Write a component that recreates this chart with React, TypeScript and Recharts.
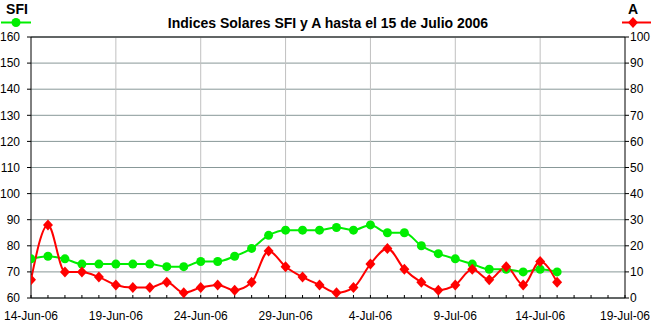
import React from 'react';
import { LineChart, Line, XAxis, YAxis, CartesianGrid, ReferenceLine } from 'recharts';

const days = Array.from({ length: 32 }, (_, i) => i);
const sfiValues = [75, 76, 75, 73, 73, 73, 73, 73, 72, 72, 74, 74, 76, 79, 84, 86, 86, 86, 87, 86, 88, 85, 85, 80, 77, 75, 73, 71, 71, 70, 71, 70];
const aValues = [7, 28, 10, 10, 8, 5, 4, 4, 6, 2, 4, 5, 3, 6, 18, 12, 8, 5, 2, 4, 13, 19, 11, 6, 3, 5, 11, 7, 12, 5, 14, 6];
const majorTicks = [0, 5, 10, 15, 20, 25, 30, 35];
const majorLabels = ['14-Jun-06', '19-Jun-06', '24-Jun-06', '29-Jun-06', '4-Jul-06', '9-Jul-06', '14-Jul-06', '19-Jul-06'];
const dayTicks = Array.from({ length: 36 }, (_, i) => i);
const sfiTicks = [60, 70, 80, 90, 100, 110, 120, 130, 140, 150, 160];
const aTicks = [0, 10, 20, 30, 40, 50, 60, 70, 80, 90, 100];

const data = days.map((d, i) => ({ day: d, sfi: sfiValues[i], a: aValues[i] }));

const GREEN = '#00ee00';
const RED = '#ff0000';
const FONT = '"Liberation Sans", Arial, sans-serif';

const GreenDot = (props: any) => {
  const { cx, cy, index } = props;
  if (cx == null || cy == null) return null;
  return <circle key={`g${index}`} cx={cx} cy={cy} r={4.5} fill={GREEN} stroke="none" />;
};

const RedDiamond = (props: any) => {
  const { cx, cy, index } = props;
  if (cx == null || cy == null) return null;
  return (
    <polygon
      key={`r${index}`}
      points={`${cx},${cy - 5.5} ${cx + 5},${cy} ${cx},${cy + 5.5} ${cx - 5},${cy}`}
      fill={RED}
      stroke="none"
    />
  );
};

const fmtX = (v: number) => {
  const i = majorTicks.indexOf(v);
  return i >= 0 ? majorLabels[i] : '';
};

export default function App() {
  return (
    <div style={{ position: 'absolute', left: 0, top: 0, width: 651, height: 325, background: '#fff', fontFamily: FONT }}>
      <LineChart width={651} height={325} data={data} margin={{ top: 37, right: 0, bottom: 0, left: 0 }}>
        <CartesianGrid yAxisId="left" vertical={false} horizontal={true} stroke="#889898" strokeWidth={1} />
        {majorTicks.slice(1, -1).map((t) => (
          <ReferenceLine key={t} x={t} yAxisId="left" stroke="#c0c0c0" strokeWidth={1} />
        ))}
        <ReferenceLine y={160} yAxisId="left" stroke="#000" strokeWidth={1} />
        <XAxis
          dataKey="day"
          type="number"
          domain={[0, 35]}
          ticks={dayTicks}
          interval={0}
          tickFormatter={fmtX}
          height={27}
          tickSize={-3}
          tickMargin={16}
          axisLine={{ stroke: '#000' }}
          tickLine={{ stroke: '#000' }}
          tick={{ fill: '#000', fontSize: 12, fontFamily: FONT }}
          allowDataOverflow
        />
        <YAxis
          yAxisId="left"
          orientation="left"
          domain={[60, 160]}
          ticks={sfiTicks}
          interval={0}
          width={31}
          tickSize={4}
          tickMargin={7}
          axisLine={{ stroke: '#000' }}
          tickLine={{ stroke: '#000' }}
          tick={{ fill: '#000', fontSize: 12, fontFamily: FONT }}
        />
        <YAxis
          yAxisId="right"
          orientation="right"
          domain={[0, 100]}
          ticks={aTicks}
          interval={0}
          width={26}
          tickSize={4}
          tickMargin={1}
          axisLine={{ stroke: '#000' }}
          tickLine={{ stroke: '#000' }}
          tick={{ fill: '#000', fontSize: 12, fontFamily: FONT, textAnchor: 'start' }}
        />
        <Line
          yAxisId="left"
          type="monotone"
          dataKey="sfi"
          stroke={GREEN}
          strokeWidth={2}
          dot={GreenDot}
          activeDot={false}
          isAnimationActive={false}
        />
        <Line
          yAxisId="right"
          type="monotone"
          dataKey="a"
          stroke={RED}
          strokeWidth={2}
          dot={RedDiamond}
          activeDot={false}
          isAnimationActive={false}
        />
      </LineChart>
      <svg width={651} height={37} style={{ position: 'absolute', left: 0, top: 0, pointerEvents: 'none' }}>
        <text x={328} y={28} textAnchor="middle" fontSize={14} fontWeight="bold" fontFamily={FONT} fill="#000">
          Indices Solares SFI y A hasta el 15 de Julio 2006
        </text>
        <text x={17} y={14} textAnchor="middle" fontSize={14} fontWeight="bold" fontFamily={FONT} fill="#000">
          SFI
        </text>
        <line x1={1} y1={22.5} x2={31} y2={22.5} stroke={GREEN} strokeWidth={2} />
        <circle cx={16} cy={22.5} r={4.5} fill={GREEN} />
        <text x={633} y={14} textAnchor="middle" fontSize={14} fontWeight="bold" fontFamily={FONT} fill="#000">
          A
        </text>
        <line x1={622} y1={22.5} x2={651} y2={22.5} stroke={RED} strokeWidth={2} />
        <polygon points="633,17 638,22.5 633,28 628,22.5" fill={RED} />
      </svg>
    </div>
  );
}
